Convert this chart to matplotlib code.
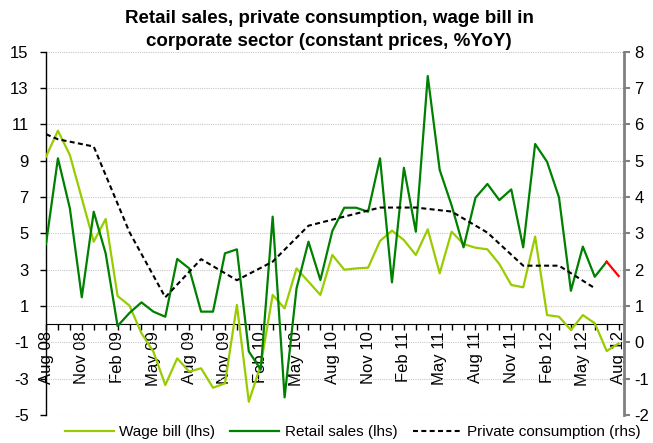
import numpy as np
import pandas as pd
import matplotlib
matplotlib.use('Agg')
import matplotlib.pyplot as plt
from matplotlib.lines import Line2D
from matplotlib.ticker import FixedLocator, MultipleLocator

# monthly series, Aug 2008 .. Aug 2012
months = pd.date_range('2008-08-01', periods=49, freq='MS')

wage_bill = [9.22, 10.65, 9.31, 6.93, 4.54, 5.79, 1.55, 1.02, -0.5, -1.51,
             -3.35, -1.88, -2.61, -2.43, -3.5, -3.26, 1.06, -4.27, -2.25, 1.61,
             0.87, 3.07, 2.34, 1.61, 3.81, 3.0, 3.07, 3.11, 4.58, 5.15,
             4.63, 3.81, 5.22, 2.8, 5.09, 4.41, 4.21, 4.12, 3.31, 2.16,
             2.03, 4.82, 0.5, 0.41, -0.32, 0.5, 0.05, -1.48, -1.06]

retail_sales = [4.41, 9.13, 6.38, 1.48, 6.19, 3.9, -0.1, 0.62, 1.2, 0.69,
                0.41, 3.59, 3.07, 0.69, 0.69, 3.9, 4.12, -1.5, -2.5, 5.92,
                -4.03, 1.97, 4.54, 2.43, 5.13, 6.41, 6.41, 6.19, 9.13, 2.3,
                8.61, 5.09, 13.66, 8.49, 6.54, 4.23, 6.96, 7.72, 6.83, 7.42,
                4.23, 9.92, 8.94, 6.98, 1.84, 4.27, 2.61, 3.44, 2.65]

# private consumption (rhs), quarterly points
pc_dates = ['2008-08', '2008-09', '2008-12', '2009-03', '2009-06', '2009-09',
            '2009-12', '2010-03', '2010-06', '2010-09', '2010-12', '2011-03',
            '2011-06', '2011-09', '2011-12', '2012-03', '2012-06']
private_cons = [5.73, 5.59, 5.39, 3.03, 1.24, 2.29, 1.71, 2.22, 3.21, 3.46,
                3.71, 3.71, 3.6, 3.02, 2.11, 2.11, 1.49]

month_idx = np.arange(len(months))
pc_idx = [months.get_loc(pd.Timestamp(d + '-01')) for d in pc_dates]
tick_idx = month_idx[::3]
tick_labels = [m.strftime('%b %y') for m in months[::3]]

plt.rcParams['font.family'] = 'Liberation Sans'
plt.rcParams['axes.unicode_minus'] = False

LIGHT = '#99cc00'
DARK = '#008000'

fig = plt.figure(figsize=(6.53, 4.43), dpi=100)
ax = fig.add_axes([46/653, 28/443, 578/653, 363.3/443])
ax2 = ax.twinx()

ax.plot(month_idx, wage_bill, color=LIGHT, lw=1.6, zorder=3)
ax.plot(month_idx[:48], retail_sales[:48], color=DARK, lw=1.6, zorder=4)
ax.plot(month_idx[47:], retail_sales[47:], color='#ff0000', lw=1.6, zorder=4)
ax2.plot(pc_idx, private_cons, color='black', lw=1.5, dashes=(2.4, 1.6))

ax.set_xlim(0, 578/11.93)
ax.set_ylim(-5, 15)
ax2.set_ylim(-2, 8)
ax.set_yticks(np.arange(-5, 16, 2))
ax2.set_yticks(np.arange(-2, 9, 1))

ax.yaxis.grid(True, color='#c8c8c8', ls=(0, (1, 1)), lw=0.8)
ax.set_axisbelow(True)

for s in ['top', 'right']:
    ax.spines[s].set_visible(False)
ax.spines['bottom'].set_position(('data', 0))
ax.spines['left'].set_linewidth(1)
for s in ['top', 'left', 'bottom']:
    ax2.spines[s].set_visible(False)
ax2.spines['right'].set_color('#808080')
ax2.spines['right'].set_linewidth(2)

ax.xaxis.set_major_locator(FixedLocator(tick_idx))
ax.xaxis.set_minor_locator(MultipleLocator(1))
ax.set_xticklabels(tick_labels, rotation=90, va='top', ha='center', fontsize=12)
ax.tick_params(axis='x', which='both', direction='out', length=4, width=1, pad=1)
ax.tick_params(axis='y', direction='out', length=4.5, width=1, pad=8, labelsize=12)
ax2.tick_params(axis='y', direction='out', length=4.5, width=1.5,
                color='#808080', pad=3, labelsize=12)

fig.text(329/653, 1 - 30/443,
         'Retail sales, private consumption, wage bill in\ncorporate sector (constant prices, %YoY)',
         ha='center', va='center', fontweight='bold', fontsize=13.5,
         linespacing=1.45)

handles = [Line2D([], [], color=LIGHT, lw=1.6),
           Line2D([], [], color=DARK, lw=1.6),
           Line2D([], [], color='black', lw=1.5, dashes=(2.4, 1.6))]
fig.legend(handles, ['Wage bill (lhs)', 'Retail sales (lhs)', 'Private consumption (rhs)'],
           loc='center', bbox_to_anchor=(0.54, 0.024), ncol=3, frameon=False,
           prop={'size': 11}, handlelength=3.2,
           handletextpad=0.35, columnspacing=1.0, borderpad=0)

fig.savefig('out.png', dpi=100)
